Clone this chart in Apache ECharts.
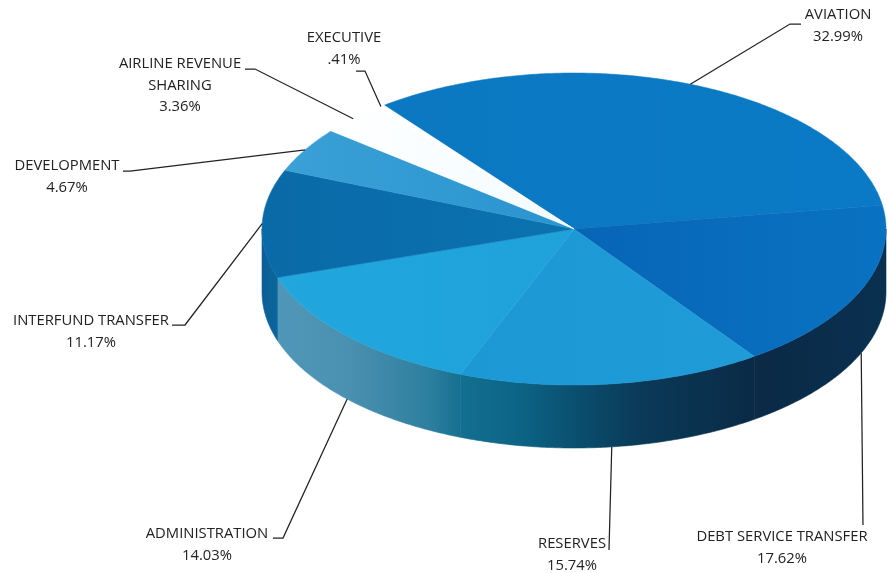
<!DOCTYPE html>
<html>
<head>
<meta charset="utf-8">
<style>html,body{margin:0;padding:0;background:#fff}#chart{width:887px;height:573px}</style>
<script src="https://cdn.jsdelivr.net/npm/echarts@6/dist/echarts.min.js"></script>
</head>
<body>
<div id="chart"></div>
<script>
// Budget shares, clockwise from the Aviation slice.
const categories = ['AVIATION', 'DEBT SERVICE TRANSFER', 'RESERVES', 'ADMINISTRATION',
  'INTERFUND TRANSFER', 'DEVELOPMENT', 'AIRLINE REVENUE\nSHARING', 'EXECUTIVE'];
const shares = [32.99, 17.62, 15.74, 14.03, 11.17, 4.67, 3.36, 0.41];
const shareLabels = ['32.99%', '17.62%', '15.74%', '14.03%', '11.17%', '4.67%', '3.36%', '.41%'];

// Tilted disc geometry.
const disc = { cx: 574, cy: 229, rx: 312, ry: 156, depth: 63, startDeg: -37.5 };

// Top face colours: [start, end] of a gradient running left to right.
const topColors = [
  ['#0b78c1', '#0a7ac6'], ['#0765b6', '#0a72c2'], ['#1c98d5', '#1f9bd8'], ['#22a6de', '#1fa2da'],
  ['#0a6aa8', '#0b72b0'], ['#3aa0d6', '#2a94d0'], ['#ffffff', '#f2fbff'], ['#ffffff', '#ffffff']
];
// Side wall colour stops, as [screen x, colour].
const wallStops = [
  [[800, '#0a2a46'], [887, '#0a3050']],
  [[755, '#0a2a46'], [887, '#0a3050']],
  [[463, '#136f8f'], [520, '#0c6485'], [580, '#0a4d6d'], [640, '#0a3a58'], [755, '#0a2a46']],
  [[278, '#5096b8'], [350, '#4a90b0'], [430, '#2d7f9f'], [463, '#136f8f']],
  [[262, '#0a5f95'], [285, '#0a6aa0']],
  [[262, '#0a5f95'], [285, '#0a5f95']],
  [[262, '#0a5f95'], [285, '#0a5f95']],
  [[262, '#0a5f95'], [285, '#0a5f95']]
];

// Callouts: centre of the label's first line, then the leader's elbow points.
const callouts = [
  { x: 838, y: 15, elbow: [[790, 24], [801, 24]] },
  { x: 782, y: 537, elbow: [[863, 525]] },
  { x: 572, y: 544, elbow: [[609, 550]] },
  { x: 207, y: 534, elbow: [[283, 538], [273, 538]] },
  { x: 91, y: 321, elbow: [[185, 325], [172, 325]] },
  { x: 67, y: 166, elbow: [[130, 171], [123, 171]] },
  { x: 180, y: 64, elbow: [[255, 69], [245, 69]] },
  { x: 344, y: 38, elbow: [[365, 71], [356, 71]] }
];

const total = shares.reduce((a, b) => a + b, 0);
const toRad = d => d * Math.PI / 180;
const rimPoint = (deg, drop) => [
  disc.cx + disc.rx * Math.sin(toRad(deg)),
  disc.cy - disc.ry * Math.cos(toRad(deg)) + (drop || 0)
];
const arcPoints = (from, to, drop) => {
  const n = Math.max(2, Math.ceil(Math.abs(to - from) * 2));
  const pts = [];
  for (let i = 0; i <= n; i++) pts.push(rimPoint(from + (to - from) * i / n, drop));
  return pts;
};
const xGradient = (x0, x1, stops) => ({
  type: 'linear', global: true, x: x0, y: 0, x2: x1, y2: 0, colorStops: stops
});
const sliceStart = index => {
  let before = 0;
  for (let i = 0; i < index; i++) before += shares[i];
  return disc.startDeg + before / total * 360;
};

function renderSlice(params, api) {
  const i = params.dataIndex;
  const a0 = sliceStart(i);
  const a1 = a0 + api.value(0) / total * 360;
  const children = [];

  // Only the part of the rim between the right and left extremes faces the viewer.
  const w0 = Math.max(a0, 90), w1 = Math.min(a1, 270);
  if (w1 > w0) {
    const stops = wallStops[i];
    const x0 = stops[0][0], x1 = stops[stops.length - 1][0];
    const fill = xGradient(x0, x1, stops.map(s => ({ offset: (s[0] - x0) / (x1 - x0), color: s[1] })));
    children.push({
      type: 'polygon',
      shape: { points: arcPoints(w0, w1, 0).concat(arcPoints(w1, w0, disc.depth)) },
      style: { fill, stroke: fill, lineWidth: 0.6 }
    });
  }

  // Top face.
  const xs = arcPoints(a0, a1, 0).map(p => p[0]).concat(disc.cx);
  const left = Math.min.apply(null, xs), right = Math.max.apply(null, xs);
  const topFill = xGradient(left, right, [
    { offset: 0, color: topColors[i][0] }, { offset: 1, color: topColors[i][1] }
  ]);
  children.push({
    type: 'polygon',
    shape: { points: [[disc.cx, disc.cy]].concat(arcPoints(a0, a1, 0)) },
    style: { fill: topFill, stroke: topFill, lineWidth: 0.5 },
    z2: 2
  });

  // Leader from the middle of the slice's rim; front-facing slices start at the wall's foot.
  const mid = (a0 + a1) / 2;
  const norm = ((mid % 360) + 360) % 360;
  const facing = norm > 90 && norm < 270;
  const c = callouts[i];
  children.push({
    type: 'polyline',
    shape: { points: [rimPoint(mid, facing ? disc.depth : 0)].concat(c.elbow) },
    style: { fill: null, stroke: '#222222', lineWidth: 1.25 },
    z2: 3
  });

  // Label: the block's top sits half a line above the first line's centre.
  children.push({
    type: 'text',
    x: c.x,
    y: c.y - 10.5,
    style: {
      x: 0, y: 0,
      text: categories[i] + '\n' + shareLabels[i],
      align: 'center', verticalAlign: 'top',
      fontFamily: '"Open Sans"', fontSize: 14.8, lineHeight: 21.3,
      fill: '#222222'
    },
    z2: 4
  });
  return { type: 'group', children };
}

const chart = echarts.init(document.getElementById('chart'), null, { renderer: 'canvas' });
chart.setOption({
  animation: false,
  backgroundColor: '#ffffff',
  series: [{
    type: 'custom',
    coordinateSystem: 'none',
    data: shares.map(v => [v]),
    renderItem: renderSlice,
    silent: true
  }]
});
</script>
</body>
</html>
